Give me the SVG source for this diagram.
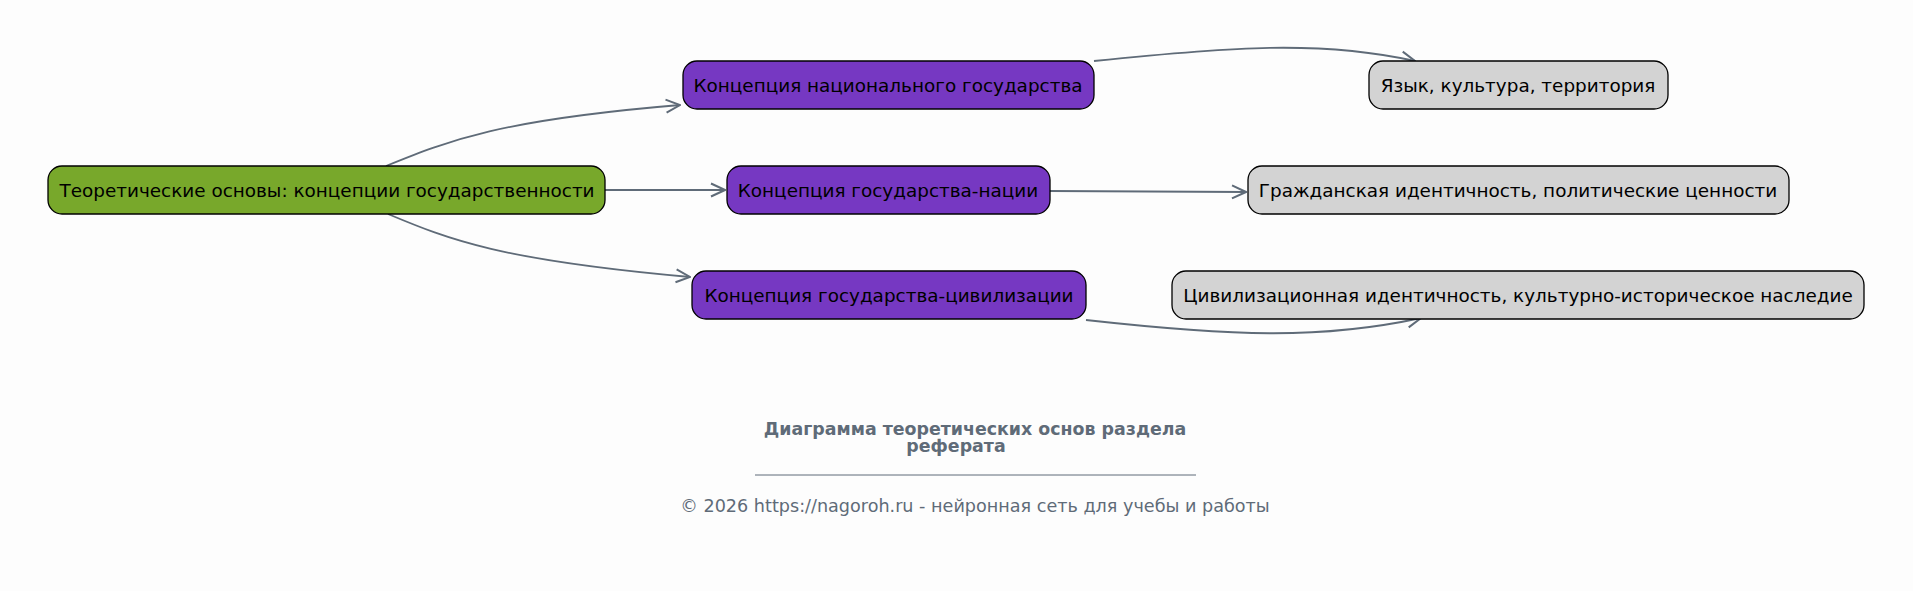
<svg xmlns="http://www.w3.org/2000/svg" width="1913" height="591" viewBox="0 0 1913 591">
<defs>
<style>
.node rect{stroke:#000;stroke-width:1.3}
.root rect{fill:#78a82b}
.mid rect{fill:#7638c2}
.leaf rect{fill:#d3d3d3}
.node text{font-family:"DejaVu Sans",sans-serif;font-size:18.4px;fill:#000;text-anchor:middle;dominant-baseline:central}
.edge{fill:none;stroke:#5f6b78;stroke-width:1.8;marker-end:url(#arr)}
.title{font-family:"DejaVu Sans",sans-serif;font-size:17.4px;font-weight:bold;fill:#5f6b78;text-anchor:middle}
.foot{font-family:"DejaVu Sans",sans-serif;font-size:17.6px;fill:#5f6b78;text-anchor:middle}
</style>
<marker id="arr" viewBox="0 0 16 16" refX="15" refY="8" markerWidth="16" markerHeight="16" markerUnits="userSpaceOnUse" orient="auto">
<path d="M1,1.5 L15,8 L1,14.5" fill="none" stroke="#5f6b78" stroke-width="2"/>
</marker>
</defs>
<rect width="1913" height="591" fill="#fdfdfd"/>
<g id="connectors">
<path class="edge" d="M386,166 C450,140 500,120 680,105"/>
<path class="edge" d="M605,190 L725,190"/>
<path class="edge" d="M388,214 C450,240 500,260 690,277"/>
<path class="edge" d="M1094,61 C1230,47 1320,40 1415,61"/>
<path class="edge" d="M1050,191 L1246,192"/>
<path class="edge" d="M1086,320 C1230,336 1320,340 1421,318"/>
</g>
<g id="n-root" class="node root"><rect x="48" y="166" width="557" height="48" rx="14"/><text x="327" y="190">Теоретические основы: концепции государственности</text></g>
<g id="n-nat" class="node mid"><rect x="683" y="61" width="411" height="48" rx="14"/><text x="888" y="85">Концепция национального государства</text></g>
<g id="n-gn" class="node mid"><rect x="727" y="166" width="323" height="48" rx="14"/><text x="888" y="190">Концепция государства-нации</text></g>
<g id="n-civ" class="node mid"><rect x="692" y="271" width="394" height="48" rx="14"/><text x="889" y="295">Концепция государства-цивилизации</text></g>
<g id="n-lang" class="node leaf"><rect x="1369" y="61" width="299" height="48" rx="14"/><text x="1518" y="85">Язык, культура, территория</text></g>
<g id="n-civic" class="node leaf"><rect x="1248" y="166" width="541" height="48" rx="14"/><text x="1518" y="190">Гражданская идентичность, политические ценности</text></g>
<g id="n-heritage" class="node leaf"><rect x="1172" y="271" width="692" height="48" rx="14"/><text x="1518" y="295">Цивилизационная идентичность, культурно-историческое наследие</text></g>
<g id="caption">
<text class="title" x="975" y="435">Диаграмма теоретических основ раздела</text>
<text class="title" x="956" y="452">реферата</text>
<line x1="755" y1="475" x2="1196" y2="475" stroke="#5f6b78" stroke-width="1"/>
<text class="foot" x="975" y="512">© 2026 https://nagoroh.ru - нейронная сеть для учебы и работы</text>
</g>
</svg>
